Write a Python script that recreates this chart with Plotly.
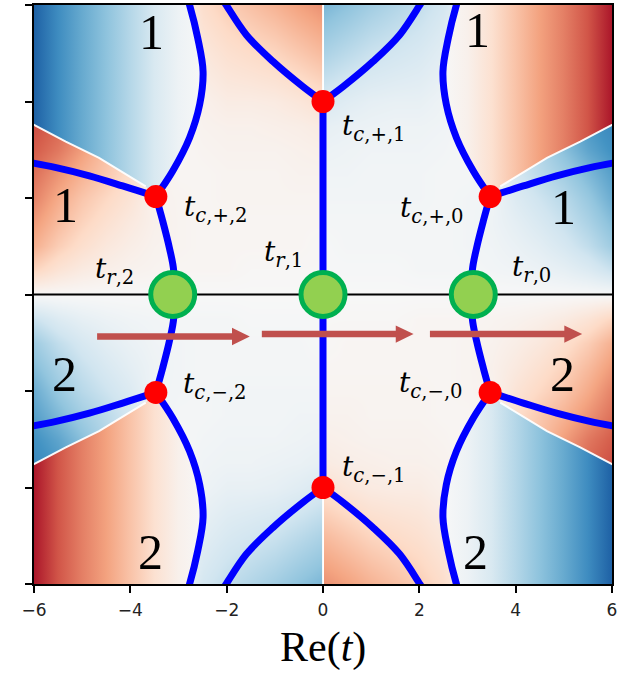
import plotly.graph_objects as go
from plotly.colors import sample_colorscale

# ---------------- smooth background field, upper-right quadrant (x >= 0, y >= 0) ----------------
# The field is odd in x and odd in y; the other quadrants follow by sign flips.
XQ = [0, 0.5, 1, 1.5, 2, 2.5, 3, 3.5, 4, 4.5, 5, 5.5, 6]
YQ = [0, 0.5, 1, 1.5, 2, 2.5, 3, 3.5, 4, 5, 6]
ZQ = [
    [0.00, 0.00, 0.00, 0.00, 0.00, 0.00, 0.00, 0.00, 0.00, 0.00, 0.00, 0.00, 0.00],
    [0.01, 0.01, 0.01, 0.01, 0.02, 0.02, 0.02, 0.03, 0.04, 0.06, 0.09, 0.14, 0.22],
    [0.01, 0.02, 0.02, 0.02, 0.02, 0.02, 0.03, 0.04, 0.07, 0.11, 0.17, 0.25, 0.36],
    [0.02, 0.02, 0.02, 0.02, 0.02, 0.02, 0.03, 0.05, 0.10, 0.16, 0.23, 0.32, 0.43],
    [0.03, 0.03, 0.03, 0.03, 0.03, 0.02, 0.03, 0.04, 0.14, 0.21, 0.28, 0.38, 0.50],
    [0.04, 0.04, 0.03, 0.03, 0.03, 0.02, 0.02, 0.05, 0.18, 0.27, 0.35, 0.45, 0.55],
    [0.06, 0.05, 0.04, 0.04, 0.04, 0.03, 0.01, 0.06, 0.20, 0.30, 0.42, 0.53, 0.61],
    [0.09, 0.07, 0.06, 0.05, 0.05, 0.04, 0.01, 0.06, 0.20, 0.32, 0.46, 0.58, 0.65],
    [0.16, 0.12, 0.09, 0.08, 0.08, 0.05, 0.01, 0.06, 0.20, 0.32, 0.46, 0.60, 0.68],
    [0.32, 0.27, 0.22, 0.19, 0.16, 0.11, 0.02, 0.06, 0.20, 0.32, 0.46, 0.60, 0.70],
    [0.46, 0.41, 0.35, 0.30, 0.25, 0.18, 0.04, 0.06, 0.20, 0.32, 0.46, 0.60, 0.70],
]

# sheet beyond the branch cut (region "1" at the top corner): value against x
SHEET_X = [2.5, 3.0, 3.5, 4.0, 4.5, 5.0, 5.5, 6.0]
SHEET_Z = [0.0, -0.05, -0.16, -0.29, -0.41, -0.51, -0.63, -0.82]

# ---------------- Stokes lines (upper-right quadrant, mirrored to all four) ----------------
BRANCH_TOP_X = [0, 0.42, 1.04, 1.59, 2.01, 2.05]
BRANCH_TOP_Y = [4.0, 4.31, 4.83, 5.38, 6.0, 6.06]
CURVE_UP_X = [3.47, 3.12, 2.77, 2.56, 2.49, 2.60, 2.77, 2.79]
CURVE_UP_Y = [2.03, 2.56, 3.25, 3.94, 4.62, 5.31, 6.0, 6.06]
CURVE_DOWN_X = [3.47, 3.33, 3.19, 3.10, 3.12]
CURVE_DOWN_Y = [2.03, 1.53, 0.97, 0.49, 0.0]
BRANCH_RIGHT_X = [3.47, 4.16, 4.85, 5.54, 6.06]
BRANCH_RIGHT_Y = [2.03, 2.25, 2.46, 2.63, 2.73]
AXIS_LINE_X = [0, 0]
AXIS_LINE_Y = [-4.0, 4.0]

# branch cuts
CUT_X = [3.47, 3.68, 4.65, 5.34, 6.08]
CUT_Y = [2.03, 2.24, 2.83, 3.17, 3.56]
CUT0_Y = [4.0, 6.05]

# ---------------- points ----------------
TC_X = [-3.47, 0.0, 3.47, -3.47, 0.0, 3.47]
TC_Y = [2.03, 4.0, 2.03, -2.03, -4.0, -2.03]
TR_X = [-3.12, 0.0, 3.12]
TR_Y = [0.0, 0.0, 0.0]

# ---------------- arrows ----------------
ARROW_X0 = [-4.69, -1.27, 2.22]
ARROW_X1 = [-1.52, 1.88, 5.38]
ARROW_Y = [-0.87, -0.82, -0.82]

# ---------------- labels ----------------
TLABELS = [
    ("<i>t</i><sub><i>c</i>,+,1</sub>", 0.35, 3.46),
    ("<i>t</i><sub><i>c</i>,+,0</sub>", 1.56, 1.76),
    ("<i>t</i><sub><i>c</i>,+,2</sub>", -2.93, 1.79),
    ("<i>t</i><sub><i>r</i>,2</sub>", -4.78, 0.49),
    ("<i>t</i><sub><i>r</i>,1</sub>", -1.27, 0.84),
    ("<i>t</i><sub><i>r</i>,0</sub>", 3.89, 0.53),
    ("<i>t</i><sub><i>c</i>,\u2212,2</sub>", -2.95, -1.89),
    ("<i>t</i><sub><i>c</i>,\u2212,1</sub>", 0.35, -3.60),
    ("<i>t</i><sub><i>c</i>,\u2212,0</sub>", 1.54, -1.87),
]
REGION_LABELS = [
    ("1", -3.57, 5.44), ("1", -5.34, 1.86), ("1", 3.20, 5.48), ("1", 4.99, 1.81),
    ("2", -5.37, -1.65), ("2", -3.59, -5.33), ("2", 4.98, -1.65), ("2", 3.16, -5.33),
]
XTICKS = [-6, -4, -2, 0, 2, 4, 6]
XTICKTEXT = ["\u22126", "\u22124", "\u22122", "0", "2", "4", "6"]
YTICKS = [-6, -4, -2, 0, 2, 4, 6]

RDBU = [
    [0.0, "rgb(103,0,31)"], [0.1, "rgb(178,24,43)"], [0.2, "rgb(214,96,77)"],
    [0.3, "rgb(244,165,130)"], [0.4, "rgb(253,219,199)"], [0.5, "rgb(247,247,247)"],
    [0.6, "rgb(209,229,240)"], [0.7, "rgb(146,197,222)"], [0.8, "rgb(67,147,195)"],
    [0.9, "rgb(33,102,172)"], [1.0, "rgb(5,48,97)"],
]
ZMIN, ZMAX = -1.0, 1.0


def z_color(z):
    return sample_colorscale(RDBU, [(z - ZMIN) / (ZMAX - ZMIN)])[0]


# ---------------- full grid from the quadrant ----------------
EPS = 0.02  # split columns either side of the x = 0 cut
XF = [-x for x in XQ[:0:-1]] + [-EPS, EPS] + XQ[1:]
YF = [-y for y in YQ[:0:-1]] + YQ
ZF = []
for yf in YF:
    q = ZQ[YQ.index(abs(yf))]
    sy = -1 if yf < 0 else 1
    row = [-v for v in q[::-1]] + list(q)
    ZF.append([sy * v for v in row])

fig = go.Figure()
fig.add_trace(go.Heatmap(x=XF, y=YF, z=ZF, colorscale=RDBU, zmin=ZMIN, zmax=ZMAX,
                         zsmooth="best", showscale=False, hoverinfo="skip"))

SIGNS = [(1, 1), (-1, 1), (1, -1), (-1, -1)]


def mirrored(xs, ys):
    for sx, sy in SIGNS:
        yield sx, sy, [sx * v for v in xs], [sy * v for v in ys]


# sheet beyond each corner branch cut, bounded by the cut and the Stokes curve
EDGE = 6.3
for sx, sy, _, _ in mirrored([0], [0]):
    bx = CUT_X + [CUT_X[-1], EDGE, EDGE, CURVE_UP_X[-1]] + CURVE_UP_X[::-1]
    by = CUT_Y + [CUT_Y[-1] + 0.05, CUT_Y[-1] + 0.05, EDGE, EDGE] + CURVE_UP_Y[::-1]
    bx = [sx * v for v in bx]
    by = [sy * v for v in by]
    stops = sorted((sx * x, z_color(sx * sy * z)) for x, z in zip(SHEET_X, SHEET_Z))
    x_lo, x_hi = stops[0][0], stops[-1][0]
    grad = [[(p - x_lo) / (x_hi - x_lo), c] for p, c in stops]
    fig.add_trace(go.Scatter(x=bx, y=by, mode="lines", fill="toself",
                             line=dict(width=0),
                             fillgradient=dict(type="horizontal", start=x_lo, stop=x_hi,
                                               colorscale=grad),
                             hoverinfo="skip"))

# branch cuts
for sx, sy, cx, cy in mirrored(CUT_X[1:], CUT_Y[1:]):
    fig.add_trace(go.Scatter(x=cx, y=cy, mode="lines",
                             line=dict(color="rgba(255,255,255,0.95)", width=2),
                             hoverinfo="skip"))
for sy in (1, -1):
    fig.add_trace(go.Scatter(x=[0, 0], y=[sy * v for v in CUT0_Y], mode="lines",
                             line=dict(color="rgba(255,255,255,0.9)", width=2),
                             hoverinfo="skip"))

# real axis
fig.add_trace(go.Scatter(x=[-6.1, 6.1], y=[0, 0], mode="lines",
                         line=dict(color="black", width=2), hoverinfo="skip"))

# Stokes lines
STOKES_BLUE = "rgb(0,0,255)"
for bx, by in [(BRANCH_TOP_X, BRANCH_TOP_Y), (CURVE_UP_X, CURVE_UP_Y),
               (CURVE_DOWN_X, CURVE_DOWN_Y), (BRANCH_RIGHT_X, BRANCH_RIGHT_Y)]:
    for _, _, mx, my in mirrored(bx, by):
        fig.add_trace(go.Scatter(x=mx, y=my, mode="lines",
                                 line=dict(color=STOKES_BLUE, width=7, shape="spline"),
                                 hoverinfo="skip"))
fig.add_trace(go.Scatter(x=AXIS_LINE_X, y=AXIS_LINE_Y, mode="lines",
                         line=dict(color=STOKES_BLUE, width=7), hoverinfo="skip"))

# crossing points
fig.add_trace(go.Scatter(x=TC_X, y=TC_Y, mode="markers",
                         marker=dict(color="rgb(255,0,0)", size=23, line=dict(width=0)),
                         hoverinfo="skip"))

# arrows
ARROW_COLOR = "#c0504d"
HEAD_LEN = 0.37
HEAD_HALF = 0.18
for x0, x1, y in zip(ARROW_X0, ARROW_X1, ARROW_Y):
    fig.add_trace(go.Scatter(x=[x0, x1 - HEAD_LEN + 0.02], y=[y, y], mode="lines",
                             line=dict(color=ARROW_COLOR, width=6.5), hoverinfo="skip"))
    fig.add_trace(go.Scatter(x=[x1 - HEAD_LEN, x1, x1 - HEAD_LEN, x1 - HEAD_LEN],
                             y=[y - HEAD_HALF, y, y + HEAD_HALF, y - HEAD_HALF],
                             mode="lines", fill="toself", fillcolor=ARROW_COLOR,
                             line=dict(width=0, color=ARROW_COLOR), hoverinfo="skip"))

# resonance points
fig.add_trace(go.Scatter(x=TR_X, y=TR_Y, mode="markers",
                         marker=dict(color="#92d050", size=44,
                                     line=dict(color="#00b050", width=5)),
                         hoverinfo="skip"))

annotations = []
for text, x, y in TLABELS:
    annotations.append(dict(x=x, y=y, xref="x", yref="y", text=text, showarrow=False,
                            xanchor="left", yanchor="middle",
                            font=dict(family="DejaVu Serif", size=28, color="black")))
for text, x, y in REGION_LABELS:
    annotations.append(dict(x=x, y=y, xref="x", yref="y", text=text, showarrow=False,
                            xanchor="center", yanchor="middle",
                            font=dict(family="Liberation Serif", size=50, color="black")))
annotations.append(dict(x=0.5, y=-0.110, xref="paper", yref="paper",
                        text="Re(<i>t</i>)", showarrow=False,
                        xanchor="center", yanchor="middle",
                        font=dict(family="Liberation Serif", size=42, color="black")))

fig.update_layout(
    width=641, height=673,
    margin=dict(l=34, r=29, t=3, b=89),
    paper_bgcolor="white", plot_bgcolor="white",
    showlegend=False,
    annotations=annotations,
)
fig.update_xaxes(range=[-6, 6], tickvals=XTICKS, ticktext=XTICKTEXT,
                 ticks="outside", ticklen=7, tickwidth=1.5, tickcolor="black",
                 ticklabelstandoff=3,
                 showline=True, linecolor="black", linewidth=1.5, mirror=True,
                 showgrid=False, zeroline=False,
                 tickfont=dict(family="DejaVu Sans", size=17, color="#222"))
fig.update_yaxes(range=[-6, 6], tickvals=YTICKS, showticklabels=False,
                 ticks="outside", ticklen=7, tickwidth=1.5, tickcolor="black",
                 showline=True, linecolor="black", linewidth=1.5, mirror=True,
                 showgrid=False, zeroline=False)

fig.write_html("out.html")
